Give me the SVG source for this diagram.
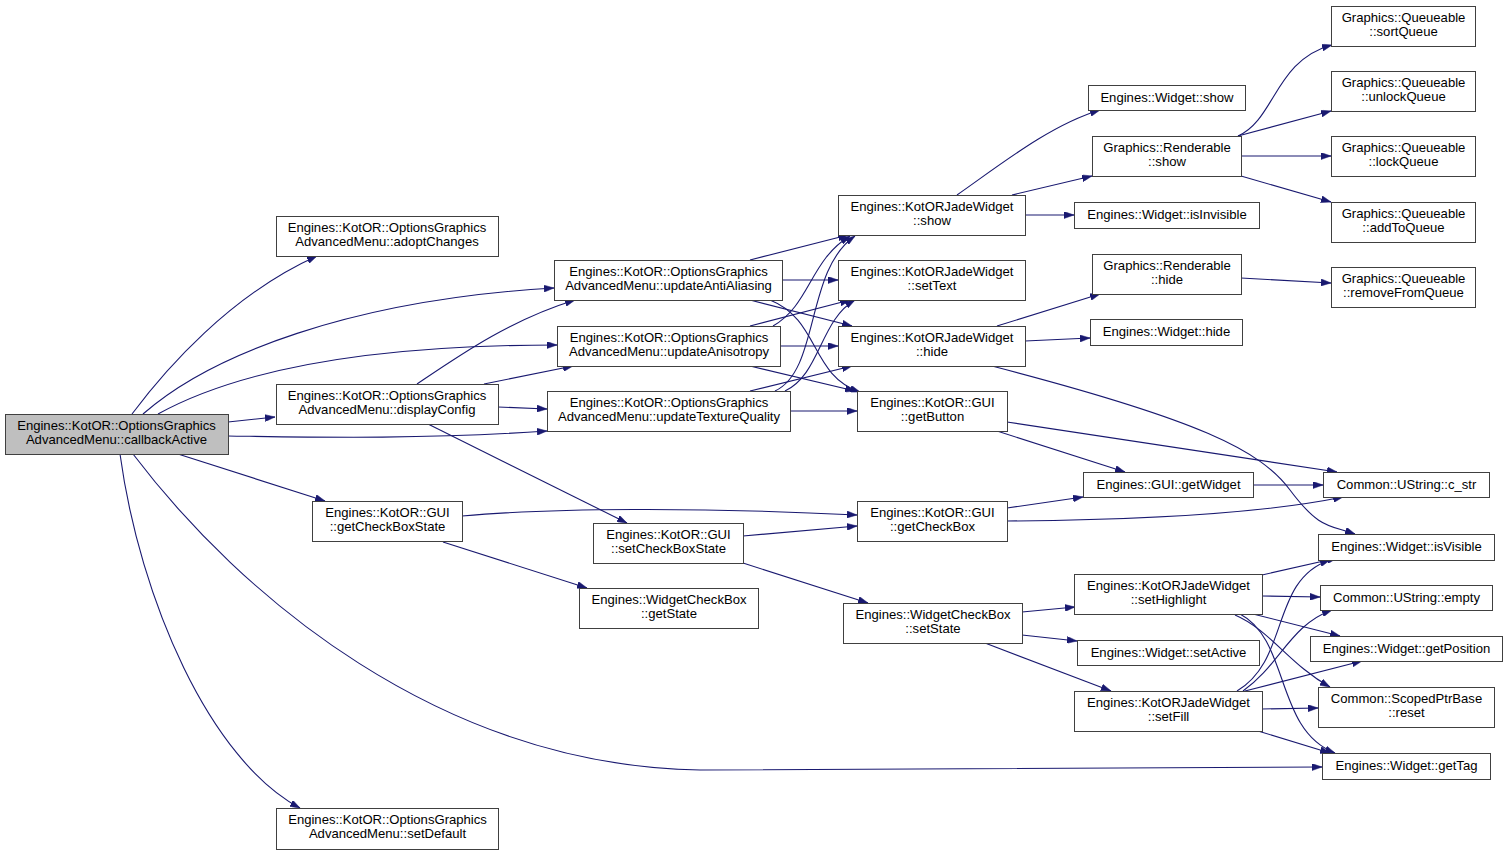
<svg xmlns="http://www.w3.org/2000/svg" width="1504" height="855" viewBox="0 0 1504 855">
<style>
.n rect{fill:#ffffff;stroke:#404040;stroke-width:1}
.n.root rect{fill:#bfbfbf}
.n text{font-family:"Liberation Sans",Arial,sans-serif;font-size:13.1px;fill:#000;text-anchor:middle;transform:translate(0px,-1px)}
.e path{fill:none;stroke:#191970;stroke-width:1.1;marker-end:url(#ah)}
</style>
<defs>
<marker id="ah" viewBox="0 0 10 7" markerWidth="10" markerHeight="7" refX="10" refY="3.5" orient="auto" markerUnits="userSpaceOnUse">
<path d="M0,0 L10,3.5 L0,7 Z" fill="#191970" stroke="#191970" stroke-width="0.5"/>
</marker>
</defs>
<rect width="1504" height="855" fill="#ffffff"/>
<g id="connectors" class="e">
<path d="M132,414 C165,370 230,295 317,256"/>
<path d="M143,414 C210,355 350,300 554,288"/>
<path d="M158,414 C220,380 330,345 557,345"/>
<path d="M228,422 L275,417"/>
<path d="M228,436 C300,437 420,440 547,431"/>
<path d="M178,454 L325,501"/>
<path d="M133,454 C240,595 440,766 700,770 L1322,767"/>
<path d="M120,454 C140,600 210,760 300,808"/>
<path d="M417,384 C460,355 510,320 575,300"/>
<path d="M484,384 L573,366"/>
<path d="M498,407 L547,409"/>
<path d="M428,424 L627,523"/>
<path d="M750,260 L848,235"/>
<path d="M782,280 L838,280"/>
<path d="M750,300 L852,326"/>
<path d="M770,300 C820,320 810,375 860,392"/>
<path d="M773,326 C810,305 810,260 850,236"/>
<path d="M750,326 L850,300"/>
<path d="M780,346 L838,346"/>
<path d="M750,366 L855,391"/>
<path d="M775,391 C820,370 805,270 855,236"/>
<path d="M785,391 C820,375 820,320 855,300"/>
<path d="M750,391 L852,366"/>
<path d="M790,411 L857,411"/>
<path d="M957,195 C1000,165 1050,125 1100,110"/>
<path d="M1012,195 L1092,176"/>
<path d="M1025,215 L1074,215"/>
<path d="M997,326 L1100,294"/>
<path d="M1025,341 L1090,338"/>
<path d="M992,366 C1200,420 1260,450 1290,490 S1330,525 1355,534"/>
<path d="M1238,136 C1275,120 1275,60 1332,45"/>
<path d="M1238,136 L1331,111"/>
<path d="M1241,156 L1331,156"/>
<path d="M1241,176 L1331,202"/>
<path d="M1241,278 L1331,283"/>
<path d="M997,431 L1125,472"/>
<path d="M1007,422 L1337,472"/>
<path d="M462,516 C550,508 700,507 857,515"/>
<path d="M443,542 L587,588"/>
<path d="M743,536 L857,526"/>
<path d="M743,563 L868,603"/>
<path d="M1007,508 L1083,497"/>
<path d="M1007,521 C1150,520 1270,512 1343,497"/>
<path d="M1253,485 L1323,485"/>
<path d="M1022,612 L1075,607"/>
<path d="M1022,635 L1077,641"/>
<path d="M985,643 L1111,691"/>
<path d="M1262,575 L1337,558"/>
<path d="M1262,596 L1320,597"/>
<path d="M1253,614 L1340,636"/>
<path d="M1235,615 C1270,630 1290,665 1330,687"/>
<path d="M1240,614 C1290,640 1275,730 1335,753"/>
<path d="M1237,691 C1290,660 1270,580 1330,560"/>
<path d="M1243,691 C1280,665 1290,625 1332,610"/>
<path d="M1245,691 L1362,661"/>
<path d="M1262,709 L1318,708"/>
<path d="M1258,731 L1330,753"/>
</g>
<g id="n0" class="n root"><rect x="5.5" y="414.5" width="223" height="40"/><text x="116.5" y="430.5">Engines::KotOR::OptionsGraphics</text><text x="116.5" y="444.5">AdvancedMenu::callbackActive</text></g>
<g id="n1" class="n"><rect x="276.5" y="216.5" width="222" height="40"/><text x="387" y="232.5">Engines::KotOR::OptionsGraphics</text><text x="387" y="246.5">AdvancedMenu::adoptChanges</text></g>
<g id="n2" class="n"><rect x="276.5" y="384.5" width="222" height="40"/><text x="387" y="400.5">Engines::KotOR::OptionsGraphics</text><text x="387" y="414.5">AdvancedMenu::displayConfig</text></g>
<g id="n3" class="n"><rect x="554.5" y="260.5" width="228" height="40"/><text x="668.5" y="276.5">Engines::KotOR::OptionsGraphics</text><text x="668.5" y="290.5">AdvancedMenu::updateAntiAliasing</text></g>
<g id="n4" class="n"><rect x="557.5" y="326.5" width="223" height="40"/><text x="669" y="342.5">Engines::KotOR::OptionsGraphics</text><text x="669" y="356.5">AdvancedMenu::updateAnisotropy</text></g>
<g id="n5" class="n"><rect x="547.5" y="391.5" width="243" height="40"/><text x="669" y="407.5">Engines::KotOR::OptionsGraphics</text><text x="669" y="421.5">AdvancedMenu::updateTextureQuality</text></g>
<g id="n6" class="n"><rect x="838.5" y="195.5" width="187" height="40"/><text x="932" y="211.5">Engines::KotORJadeWidget</text><text x="932" y="225.5">::show</text></g>
<g id="n7" class="n"><rect x="838.5" y="260.5" width="187" height="40"/><text x="932" y="276.5">Engines::KotORJadeWidget</text><text x="932" y="290.5">::setText</text></g>
<g id="n8" class="n"><rect x="838.5" y="326.5" width="187" height="40"/><text x="932" y="342.5">Engines::KotORJadeWidget</text><text x="932" y="356.5">::hide</text></g>
<g id="n9" class="n"><rect x="857.5" y="391.5" width="150" height="40"/><text x="932.5" y="407.5">Engines::KotOR::GUI</text><text x="932.5" y="421.5">::getButton</text></g>
<g id="n10" class="n"><rect x="1088.5" y="85.5" width="157" height="25"/><text x="1167" y="102.5">Engines::Widget::show</text></g>
<g id="n11" class="n"><rect x="1092.5" y="136.5" width="149" height="40"/><text x="1167" y="152.5">Graphics::Renderable</text><text x="1167" y="166.5">::show</text></g>
<g id="n12" class="n"><rect x="1074.5" y="202.5" width="185" height="26"/><text x="1167" y="220">Engines::Widget::isInvisible</text></g>
<g id="n13" class="n"><rect x="1092.5" y="254.5" width="149" height="40"/><text x="1167" y="270.5">Graphics::Renderable</text><text x="1167" y="284.5">::hide</text></g>
<g id="n14" class="n"><rect x="1090.5" y="319.5" width="152" height="26"/><text x="1166.5" y="337">Engines::Widget::hide</text></g>
<g id="n15" class="n"><rect x="1331.5" y="6.5" width="144" height="40"/><text x="1403.5" y="22.5">Graphics::Queueable</text><text x="1403.5" y="36.5">::sortQueue</text></g>
<g id="n16" class="n"><rect x="1331.5" y="71.5" width="144" height="40"/><text x="1403.5" y="87.5">Graphics::Queueable</text><text x="1403.5" y="101.5">::unlockQueue</text></g>
<g id="n17" class="n"><rect x="1331.5" y="136.5" width="144" height="40"/><text x="1403.5" y="152.5">Graphics::Queueable</text><text x="1403.5" y="166.5">::lockQueue</text></g>
<g id="n18" class="n"><rect x="1331.5" y="202.5" width="144" height="40"/><text x="1403.5" y="218.5">Graphics::Queueable</text><text x="1403.5" y="232.5">::addToQueue</text></g>
<g id="n19" class="n"><rect x="1331.5" y="267.5" width="144" height="40"/><text x="1403.5" y="283.5">Graphics::Queueable</text><text x="1403.5" y="297.5">::removeFromQueue</text></g>
<g id="n20" class="n"><rect x="312.5" y="501.5" width="150" height="40"/><text x="387.5" y="517.5">Engines::KotOR::GUI</text><text x="387.5" y="531.5">::getCheckBoxState</text></g>
<g id="n21" class="n"><rect x="593.5" y="523.5" width="150" height="40"/><text x="668.5" y="539.5">Engines::KotOR::GUI</text><text x="668.5" y="553.5">::setCheckBoxState</text></g>
<g id="n22" class="n"><rect x="579.5" y="588.5" width="179" height="40"/><text x="669" y="604.5">Engines::WidgetCheckBox</text><text x="669" y="618.5">::getState</text></g>
<g id="n23" class="n"><rect x="857.5" y="501.5" width="150" height="40"/><text x="932.5" y="517.5">Engines::KotOR::GUI</text><text x="932.5" y="531.5">::getCheckBox</text></g>
<g id="n24" class="n"><rect x="1083.5" y="472.5" width="170" height="25"/><text x="1168.5" y="489.5">Engines::GUI::getWidget</text></g>
<g id="n25" class="n"><rect x="1323.5" y="472.5" width="166" height="25"/><text x="1406.5" y="489.5">Common::UString::c_str</text></g>
<g id="n26" class="n"><rect x="1318.5" y="534.5" width="176" height="26"/><text x="1406.5" y="552">Engines::Widget::isVisible</text></g>
<g id="n27" class="n"><rect x="1074.5" y="574.5" width="188" height="40"/><text x="1168.5" y="590.5">Engines::KotORJadeWidget</text><text x="1168.5" y="604.5">::setHighlight</text></g>
<g id="n28" class="n"><rect x="1320.5" y="585.5" width="172" height="25"/><text x="1406.5" y="602.5">Common::UString::empty</text></g>
<g id="n29" class="n"><rect x="843.5" y="603.5" width="179" height="40"/><text x="933" y="619.5">Engines::WidgetCheckBox</text><text x="933" y="633.5">::setState</text></g>
<g id="n30" class="n"><rect x="1077.5" y="640.5" width="182" height="25"/><text x="1168.5" y="657.5">Engines::Widget::setActive</text></g>
<g id="n31" class="n"><rect x="1074.5" y="691.5" width="188" height="40"/><text x="1168.5" y="707.5">Engines::KotORJadeWidget</text><text x="1168.5" y="721.5">::setFill</text></g>
<g id="n32" class="n"><rect x="1310.5" y="636.5" width="192" height="25"/><text x="1406.5" y="653.5">Engines::Widget::getPosition</text></g>
<g id="n33" class="n"><rect x="1318.5" y="687.5" width="176" height="40"/><text x="1406.5" y="703.5">Common::ScopedPtrBase</text><text x="1406.5" y="717.5">::reset</text></g>
<g id="n34" class="n"><rect x="1322.5" y="753.5" width="168" height="26"/><text x="1406.5" y="771">Engines::Widget::getTag</text></g>
<g id="n35" class="n"><rect x="276.5" y="808.5" width="222" height="41"/><text x="387.5" y="824.5">Engines::KotOR::OptionsGraphics</text><text x="387.5" y="838.5">AdvancedMenu::setDefault</text></g>
</svg>
